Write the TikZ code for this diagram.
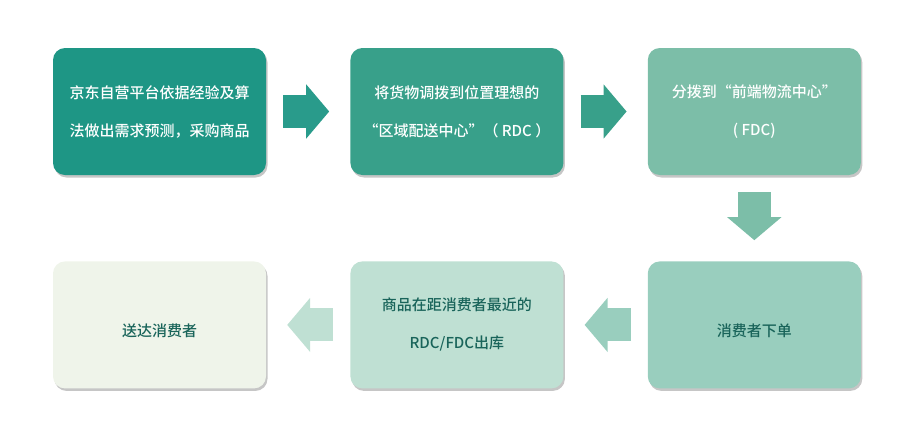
\documentclass[tikz,border=0pt]{standalone}
\usepackage{fontspec}
\setmainfont{Noto Sans CJK SC}[UprightFont=* Medium]
\usetikzlibrary{positioning, arrows.meta, shadows}

\definecolor{fillA}{RGB}{30,150,133}
\definecolor{fillB}{RGB}{56,160,138}
\definecolor{fillC}{RGB}{124,190,168}
\definecolor{fillD}{RGB}{153,206,190}
\definecolor{fillE}{RGB}{191,224,211}
\definecolor{fillF}{RGB}{239,244,234}
\definecolor{darktext}{RGB}{25,100,90}

\begin{document}
\begin{tikzpicture}[x=1pt, y=-1pt,
    box/.style={rounded corners=12pt, minimum width=213pt, minimum height=127pt,
        inner sep=0pt, align=center, font=\fontsize{15pt}{38pt}\selectfont,
        drop shadow={shadow xshift=1.5pt, shadow yshift=-2.5pt, opacity=0.45},
        execute at begin node={\rule{0pt}{25pt}}},
    flow/.style={line width=33pt, -{Triangle[length=23pt, width=53pt]},
        shorten <=17pt, shorten >=21pt},
    node distance=84pt]
    \useasboundingbox (0,0) rectangle (909,421);
    % top row, left to right
    \node[box, fill=fillA, text=white] (plan) at (159.5,111.5)
        {京东自营平台依据经验及算\\法做出需求预测，采购商品};
    \node[box, fill=fillB, text=white, right=of plan] (rdc)
        {将货物调拨到位置理想的\\“区域配送中心”（ RDC ）};
    \node[box, fill=fillC, text=white, right=of rdc] (fdc)
        {分拨到“前端物流中心”\\( FDC)};
    % bottom row, right to left
    \node[box, fill=fillD, text=darktext, below=86pt of fdc] (order) {消费者下单};
    \node[box, fill=fillE, text=darktext, left=of order] (ship)
        {商品在距消费者最近的\\RDC/FDC出库};
    \node[box, fill=fillF, text=darktext, left=of ship] (deliver) {送达消费者};
    % block arrows
    \draw[flow, fillA!95!white] (plan) -- (rdc);
    \draw[flow, fillB] (rdc) -- (fdc);
    \draw[flow, fillC] (fdc) -- (order);
    \draw[flow, fillD] (order) -- (ship);
    \draw[flow, fillE] (ship) -- (deliver);
\end{tikzpicture}
\end{document}
